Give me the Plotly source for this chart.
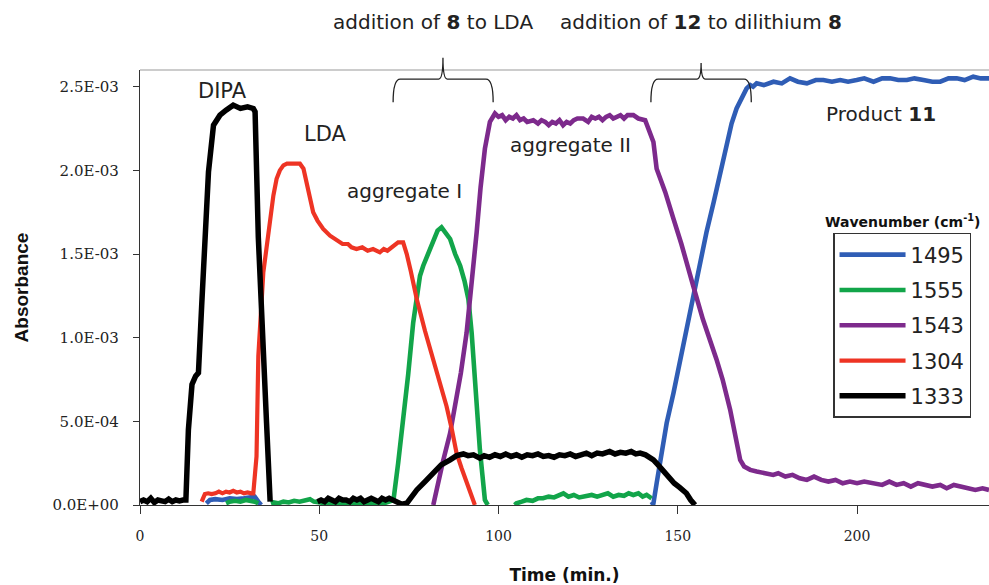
import plotly.graph_objects as go

# ---------------- data (absorbance values in units of 1e-4) ----------------
t_1495 = [18.5, 19.5, 21, 23, 25, 27, 29, 31, 32, 33, 33.8, 34.5,
          142.5, 143.2, 144.1, 145.5, 146.9, 148.8, 150.5, 152.4, 154.3, 156, 158, 160,
          161.8, 163.6, 165, 166.4, 167.8, 169.2, 170.2, 171, 172, 174, 176.7, 179, 181.3,
          183.5, 186, 188.5, 190.6, 193, 195.3, 197.5, 199.9, 202, 204.6, 207, 209.2, 211.5,
          213.9, 216, 218.5, 221, 223.2, 225.5, 227.8, 230, 232.4, 234.5, 236.8]
a_1495 = [0.1, 0.3, 0.35, 0.3, 0.4, 0.35, 0.4, 0.45, 0.5, 0.2, 0.0, None,
          0.0, 0.1, 1.3, 3.0, 4.9, 6.7, 8.5, 10.6, 12.5, 14.5, 16.3, 18.1,
          19.8, 21.7, 22.8, 23.7, 24.3, 24.9, 25.1, 25.0, 25.2, 25.1, 25.3, 25.2, 25.5,
          25.3, 25.2, 25.4, 25.4, 25.3, 25.4, 25.3, 25.4, 25.5, 25.3, 25.5, 25.5, 25.4,
          25.4, 25.5, 25.4, 25.3, 25.3, 25.5, 25.5, 25.4, 25.6, 25.5, 25.5]

t_1555 = [24, 25, 26.5, 28, 29.5, 31, 32, 33, 33.6,
          36.5, 37.2, 38.5, 40, 41.5, 43, 44.5, 46, 47.4, 48.5, 50, 52, 54, 56, 58, 60, 62,
          64, 66, 68, 69.5, 70.7, 72, 73.4, 74.8, 76.2, 77.2, 78.1, 79.0, 80.4, 81.8, 83,
          84.1, 85.3, 86.5, 87.9, 89.3, 90.5, 91.6, 92.5, 93.4, 94.1, 94.8, 95.5, 96.2, 97.0,
          97.6, 104.5, 105, 106.5, 107.8, 109.5, 111, 112.4, 114, 115.5, 117, 118.1, 119.5,
          121, 122.5, 124.6, 126, 127.5, 129.2, 130.5, 132, 133.5, 135, 136.3, 137.6, 139,
          140.2, 141.3, 142.7]
a_1555 = [0.1, 0.2, 0.25, 0.2, 0.3, 0.25, 0.2, 0.1, None,
          0.1, 0.15, 0.1, 0.2, 0.15, 0.25, 0.2, 0.3, 0.35, 0.2, 0.15, 0.1, 0.15, 0.1, 0.15,
          0.1, 0.15, 0.1, 0.15, 0.1, 0.2, 0.3, 2.5, 4.9, 7.8, 10.9, 12.6, 13.7, 14.3, 15.1,
          15.9, 16.4, 16.6, 16.3, 15.9, 15.0, 14.3, 13.4, 12.3, 10.3, 7.3, 5.2, 3.3, 1.8,
          0.3, 0.0, None, 0.0, 0.1, 0.2, 0.3, 0.25, 0.4, 0.4, 0.5, 0.45, 0.6, 0.7, 0.5, 0.6,
          0.45, 0.5, 0.6, 0.5, 0.6, 0.7, 0.5, 0.6, 0.55, 0.7, 0.6, 0.7, 0.5, 0.6, 0.4, 0.1]

t_1543 = [81.8, 83, 84.5, 86.5, 88, 89.5, 91.1, 92.5, 93.9, 95, 96.2, 97.6, 99.0, 100,
          101, 102, 103, 104, 105, 106, 107, 108, 109.7, 111, 112, 113, 114, 115, 116, 117,
          118, 119, 120, 121, 122, 123.6, 125, 126, 127, 128, 129, 130, 131, 132, 133, 134,
          135, 136, 137.6, 139, 140.9, 142.3, 143.2, 144.1, 145, 146.5, 148.8, 151, 154.3,
          157, 160.8, 162.5, 164.6, 166, 167.4, 168.5, 170.2, 172, 174, 176.6, 178, 180, 182,
          184, 186, 188, 190, 192, 194, 196, 198, 200, 202, 204.6, 207, 209, 211, 213, 215,
          217, 219, 221, 223.2, 225, 227, 229, 231, 233, 235, 236.8]
a_1543 = [0.0, 1.2, 2.6, 4.3, 6.0, 7.9, 10.3, 13.1, 16.3, 19.0, 21.3, 22.9, 23.4, 23.2,
          23.3, 23.0, 23.2, 23.1, 23.3, 23.0, 23.1, 22.9, 23.0, 22.8, 23.0, 22.9, 22.7, 22.9,
          22.8, 23.0, 22.7, 22.9, 22.8, 23.0, 23.1, 23.1, 22.9, 23.2, 23.1, 23.2, 23.0, 23.2,
          23.3, 23.1, 23.2, 23.3, 23.1, 23.3, 23.3, 23.1, 23.0, 22.3, 21.7, 20.1, 19.6, 18.7,
          17.1, 15.6, 13.1, 11.1, 8.7, 7.5, 5.7, 4.2, 2.7, 2.3, 2.1, 2.0, 1.9, 1.8, 1.9, 1.7,
          1.8, 1.6, 1.5, 1.7, 1.5, 1.4, 1.5, 1.3, 1.4, 1.3, 1.4, 1.3, 1.2, 1.4, 1.2, 1.3, 1.1,
          1.3, 1.2, 1.1, 1.2, 1.0, 1.2, 1.1, 1.0, 0.9, 1.0, 0.9]

t_1304 = [17.2, 18.1, 19, 20, 21, 22, 23, 24, 25, 26, 27, 28, 29, 30, 31, 31.6, 32.5, 33,
          34.4, 35.3, 36.3, 37.2, 38.1, 39, 40, 41, 42, 43, 44.6, 45.6, 47, 48.3, 49.5, 51.1,
          53, 54.9, 56.5, 58, 59, 60.4, 62, 63.5, 65, 66.9, 68, 69, 70.7, 72, 73.4, 74.4,
          75.5, 77.2, 79.5, 81.8, 83.5, 85.5, 87, 88.3, 89.7, 91.1, 92.3, 93.4]
a_1304 = [0.2, 0.66, 0.7, 0.65, 0.7, 0.8, 0.7, 0.8, 0.75, 0.85, 0.75, 0.8, 0.7, 0.75,
          0.7, 0.7, 2.9, 8.9, 13.9, 15.5, 16.9, 18.5, 19.5, 20.0, 20.3, 20.4, 20.4, 20.4,
          20.4, 20.1, 18.8, 17.5, 17.0, 16.5, 16.1, 15.8, 15.6, 15.6, 15.4, 15.3, 15.4, 15.2,
          15.3, 15.1, 15.3, 15.2, 15.5, 15.7, 15.7, 15.0, 14.0, 12.3, 10.4, 8.7, 7.3, 5.9,
          4.5, 3.1, 2.2, 1.3, 0.6, 0.0]

t_1333 = [0, 1, 2, 3, 4, 5, 6, 7, 8, 9, 10, 11, 12, 12.8, 13.5, 14.5, 15.5, 16.3, 17.2,
          18.2, 19.1, 20.5, 21.5, 22.3, 24, 26, 28, 30, 31.6, 32.1, 33.0, 33.9, 35.3, 36.3,
          37, 49.5, 50.5, 51.5, 52.5, 53.5, 54.5, 55.5, 56.5, 57.5, 58.5, 59.5, 60.5, 61.5,
          62.5, 63.5, 64.5, 65.5, 66.5, 67.5, 68.5, 69.5, 70.6, 72, 73, 74.4, 75.8, 77.2,
          79.5, 81.8, 84, 86.5, 88.3, 90.2, 91.5, 93, 94.8, 96, 97.5, 99, 100.5, 102, 103.5,
          105, 106.5, 108, 109.5, 111, 112.5, 114, 115.5, 117, 118.5, 120, 121.5, 123, 124.5,
          126, 127.5, 129, 131, 132.5, 134, 135.5, 137, 138.3, 139.5, 141, 142.2, 143.2,
          144.5, 146, 147.5, 149, 150.5, 152.4, 153.6, 154.8]
a_1333 = [0.2, 0.3, 0.2, 0.4, 0.15, 0.3, 0.25, 0.2, 0.35, 0.2, 0.3, 0.25, 0.3, 0.3, 4.5,
          7.2, 7.7, 7.9, 11.9, 16.5, 19.9, 22.7, 23.1, 23.3, 23.6, 23.9, 23.7, 23.8, 23.7,
          23.5, 16.0, 10.9, 4.9, 0.2, None, 0.2, 0.3, 0.2, 0.4, 0.3, 0.2, 0.4, 0.3, 0.3, 0.2,
          0.4, 0.3, 0.4, 0.2, 0.3, 0.4, 0.3, 0.2, 0.4, 0.3, 0.4, 0.3, 0.2, 0.05, 0.1, 0.5,
          0.9, 1.4, 1.9, 2.4, 2.7, 2.95, 3.05, 2.95, 3.0, 2.8, 2.95, 2.85, 3.0, 2.9, 3.05,
          2.9, 3.0, 2.85, 3.0, 2.95, 3.05, 2.9, 2.95, 2.85, 3.0, 2.95, 3.05, 2.9, 3.0, 3.1,
          2.95, 3.1, 3.05, 3.2, 3.05, 3.15, 3.1, 3.2, 3.05, 3.1, 3.0, 2.85, 2.7, 2.4, 2.0,
          1.65, 1.3, 1.05, 0.7, 0.3, 0.0]

series_names = ["1495", "1555", "1543", "1304", "1333"]
series_times = [t_1495, t_1555, t_1543, t_1304, t_1333]
series_values = [a_1495, a_1555, a_1543, a_1304, a_1333]
series_colors = ["#2F5DB5", "#12A54A", "#7D2A8C", "#EE3424", "#000000"]
series_widths = [4.6, 4.6, 4.6, 4.2, 5.5]

x_ticks = [0, 50, 100, 150, 200]
y_ticks = [0, 5e-4, 1e-3, 1.5e-3, 2e-3, 2.5e-3]
y_tick_text = ["0.0E+00", "5.0E-04", "1.0E-03", "1.5E-03", "2.0E-03", "2.5E-03"]

# ---------------- figure ----------------
fig = go.Figure()
for name, t, vals, col, w in zip(series_names, series_times, series_values,
                                 series_colors, series_widths):
    y = [None if v is None else v * 1e-4 for v in vals]
    fig.add_trace(go.Scatter(x=t, y=y, mode="lines", name=name, legendgroup=name,
                             line=dict(color=col, width=w), connectgaps=False))

tick_font = dict(family="DejaVu Serif", size=15, color="#222")
fig.update_layout(
    width=989, height=585,
    margin=dict(l=140, r=0, t=70, b=80),
    paper_bgcolor="white", plot_bgcolor="white",
    showlegend=True,
    legend=dict(x=0.8163, y=0.6253, xanchor="left", yanchor="top",
                bgcolor="white", bordercolor="#333", borderwidth=1.5,
                font=dict(family="DejaVu Sans", size=21, color="#222"),
                tracegroupgap=5, itemwidth=66),
    xaxis=dict(range=[0, 236.8], tickvals=x_ticks, showgrid=False, zeroline=False,
               showline=True, linecolor="#333", linewidth=1.3,
               ticks="outside", ticklen=8, tickcolor="#333",
               tickfont=dict(family="DejaVu Serif", size=14, color="#222"),
               ticklabelstandoff=10,
               title=dict(text="<b>Time (min.)</b>", standoff=27,
                          font=dict(family="DejaVu Sans", size=17, color="#111"))),
    yaxis=dict(range=[0, 2.6e-3], tickvals=y_ticks, ticktext=y_tick_text,
               showgrid=False, zeroline=False, showline=True, linecolor="#333",
               linewidth=1.3, ticks="outside", ticklen=6, tickcolor="#333",
               tickfont=tick_font, ticklabelstandoff=11,
               title=dict(text="<b>Absorbance</b>", standoff=18,
                          font=dict(family="Liberation Sans", size=19, color="#111"))),
)

# top frame line
fig.add_shape(type="line", xref="paper", yref="paper", x0=0, x1=1, y0=1, y1=1,
              line=dict(color="#999", width=1.2))


def brace(x0, xm, x1, yh, yend, ytop):
    d = 2.0
    return (f"M {x0},{yend} Q {x0},{yh} {x0 + d},{yh} L {xm - 1.2},{yh} "
            f"Q {xm},{yh} {xm},{ytop} Q {xm},{yh} {xm + 1.2},{yh} "
            f"L {x1 - d},{yh} Q {x1},{yh} {x1},{yend}")


fig.add_shape(type="path", xref="x", yref="paper",
              path=brace(70.6, 84.5, 98.5, 0.979, 0.926, 1.028),
              line=dict(color="#222", width=1.3))
fig.add_shape(type="path", xref="x", yref="paper",
              path=brace(142.5, 156.5, 170.5, 0.979, 0.926, 1.016),
              line=dict(color="#222", width=1.3))

lab_font = dict(family="DejaVu Sans", size=20, color="#222")
fig.add_annotation(x=81.7, y=1.11, xref="x", yref="paper", showarrow=False,
                   xanchor="center", yanchor="middle",
                   text="addition of <b>8</b> to LDA", font=lab_font)
fig.add_annotation(x=156.5, y=1.11, xref="x", yref="paper", showarrow=False,
                   xanchor="center", yanchor="middle",
                   text="addition of <b>12</b> to dilithium <b>8</b>", font=lab_font)
fig.add_annotation(x=22.9, y=2.476e-3, showarrow=False, text="DIPA",
                   font=dict(family="DejaVu Sans", size=21, color="#222"))
fig.add_annotation(x=51.6, y=2.218e-3, showarrow=False, text="LDA",
                   font=dict(family="DejaVu Sans", size=21, color="#222"))
fig.add_annotation(x=73.9, y=1.876e-3, showarrow=False, text="aggregate I", font=lab_font)
fig.add_annotation(x=120, y=2.152e-3, showarrow=False, text="aggregate II", font=lab_font)
fig.add_annotation(x=206.7, y=2.338e-3, showarrow=False, text="Product <b>11</b>",
                   font=lab_font)
fig.add_annotation(x=(902 - 140) / 849, y=(505 - 221) / 435, xref="paper", yref="paper",
                   xanchor="center", yanchor="middle",
                   showarrow=False, text="<b>Wavenumber (cm<sup>-1</sup>)</b>",
                   font=dict(family="DejaVu Sans", size=14, color="#111"))

fig.write_html("out.html", config={"displayModeBar": False},
               post_script="document.body.style.margin='0px';")
